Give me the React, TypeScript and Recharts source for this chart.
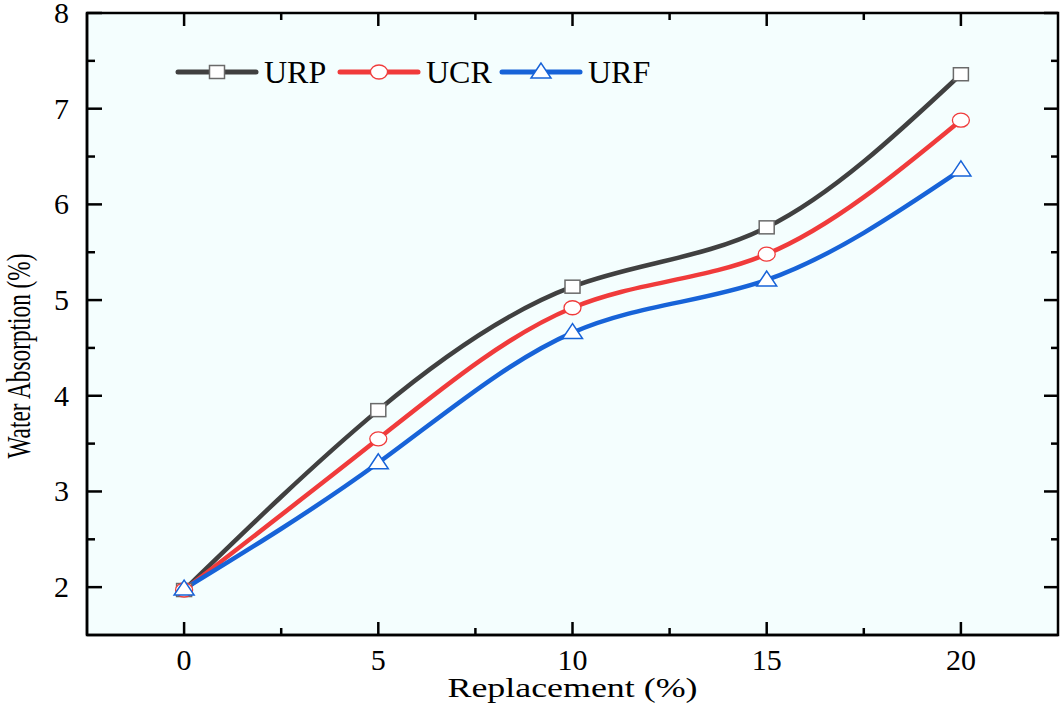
import React from 'react'
import { CartesianGrid, Label, Legend, Line, LineChart, ReferenceArea, XAxis, YAxis } from 'recharts'

// values
const replacement = [0, 5, 10, 15, 20]
const urp = [1.97, 3.85, 5.14, 5.76, 7.36]
const ucr = [1.97, 3.55, 4.92, 5.48, 6.88]
const urf = [1.98, 3.3, 4.66, 5.21, 6.36]

const xTicks = [0, 2.5, 5, 7.5, 10, 12.5, 15, 17.5, 20]
const yTicks = [2, 2.5, 3, 3.5, 4, 4.5, 5, 5.5, 6, 6.5, 7, 7.5, 8]

const FONT = '"Liberation Serif", "Times New Roman", serif'
const BG = '#F4FEFE'
const PLOT_TOP = 13
const PLOT_RIGHT = 1058

const series = [
  { key: 'urp', name: 'URP', color: '#404040', marker: 'square' },
  { key: 'ucr', name: 'UCR', color: '#F03B3B', marker: 'circle' },
  { key: 'urf', name: 'URF', color: '#1763D8', marker: 'triangle' },
]

const data = replacement.map((x, i) => ({ x, urp: urp[i], ucr: ucr[i], urf: urf[i] }))

function Marker({ kind, cx, cy, color }: { kind: string; cx: number; cy: number; color: string }) {
  if (kind === 'square') {
    return <rect x={cx - 7.5} y={cy - 6.5} width={15} height={13} fill="#fff" stroke="#6a6a6a" strokeWidth={1.5} />
  }
  if (kind === 'circle') {
    return <ellipse cx={cx} cy={cy} rx={8.5} ry={7} fill="#fff" stroke={color} strokeWidth={1.3} />
  }
  return (
    <polygon
      points={`${cx},${cy - 9} ${cx - 10},${cy + 6} ${cx + 10},${cy + 6}`}
      fill="#fff"
      stroke={color}
      strokeWidth={1.5}
    />
  )
}

const dotFor = (kind: string, color: string) => (p: any) => (
  <Marker key={`${kind}-${p.index}`} kind={kind} cx={p.cx} cy={p.cy} color={color} />
)

const major = (v: number) => Number.isInteger(v)
const majorX = (v: number) => v % 5 === 0

// ticks point inward, mirrored on the top edge
function BottomTick({ x, y, payload }: any) {
  const v = payload.value
  const len = majorX(v) ? 13 : 7
  return (
    <g>
      <line x1={x} x2={x} y1={y} y2={y - len} stroke="#000" strokeWidth={2.5} />
      <line x1={x} x2={x} y1={PLOT_TOP} y2={PLOT_TOP + len} stroke="#000" strokeWidth={2.5} />
      {majorX(v) && (
        <text x={x} y={y + 35} textAnchor="middle" fontSize={30} fontFamily={FONT} fill="#000">
          {v}
        </text>
      )}
    </g>
  )
}

// ticks point inward, mirrored on the right edge
function LeftTick({ x, y, payload }: any) {
  const v = payload.value
  return (
    <g>
      <line x1={x} x2={x + (major(v) ? 15 : 8)} y1={y} y2={y} stroke="#000" strokeWidth={2.5} />
      <line x1={PLOT_RIGHT} x2={PLOT_RIGHT - (major(v) ? 14 : 7)} y1={y} y2={y} stroke="#000" strokeWidth={2.5} />
      {major(v) && (
        <text x={x - 18} y={y + 10} textAnchor="end" fontSize={30} fontFamily={FONT} fill="#000">
          {v}
        </text>
      )}
    </g>
  )
}

function XTitle({ viewBox }: any) {
  const cx = viewBox.x + viewBox.width / 2
  return (
    <text x={cx} y={697} textAnchor="middle" fontSize={27} fontFamily={FONT} fill="#000" textLength={250} lengthAdjust="spacingAndGlyphs">
      Replacement (%)
    </text>
  )
}

function YTitle() {
  return (
    <text
      x={0}
      y={0}
      transform="translate(30 356) rotate(-90)"
      textAnchor="middle"
      fontSize={34}
      fontFamily={FONT}
      fill="#000"
      textLength={205}
      lengthAdjust="spacingAndGlyphs"
    >
      Water Absorption (%)
    </text>
  )
}

function renderLegend() {
  return (
    <svg width={700} height={60} style={{ display: 'block' }}>
      {series.map((s, i) => {
        const x0 = 178 + i * 162
        return (
          <g key={s.key}>
            <line x1={x0} x2={x0 + 78} y1={32} y2={32} stroke={s.color} strokeWidth={5} strokeLinecap="round" />
            <Marker kind={s.marker} cx={x0 + 39} cy={32} color={s.color} />
            <text x={x0 + 86} y={43} fontSize={32} fontFamily={FONT} fill="#000">
              {s.name}
            </text>
          </g>
        )
      })}
    </svg>
  )
}

export default function App() {
  return (
    <div style={{ position: 'absolute', left: 0, top: 0, width: 1062, height: 710, background: '#fff' }}>
      <LineChart width={1062} height={710} data={data} margin={{ top: PLOT_TOP, right: 1062 - PLOT_RIGHT, bottom: 0, left: 0 }}>
        <CartesianGrid fill={BG} horizontal={false} vertical={false} />
        <ReferenceArea x1={-2.5} x2={22.5} y1={1.5} y2={8} fill="none" stroke="#000" strokeWidth={2.5} fillOpacity={0} ifOverflow="visible" />
        <XAxis
          dataKey="x"
          type="number"
          domain={[-2.5, 22.5]}
          ticks={xTicks}
          interval={0}
          allowDataOverflow
          tickSize={0}
          tickMargin={0}
          height={75}
          axisLine={{ stroke: '#000', strokeWidth: 2.5 }}
          tickLine={false}
          tick={<BottomTick />}
        >
          <Label content={<XTitle />} />
        </XAxis>
        <YAxis
          type="number"
          domain={[1.5, 8]}
          ticks={yTicks}
          interval={0}
          allowDataOverflow
          tickSize={0}
          tickMargin={0}
          width={87}
          axisLine={{ stroke: '#000', strokeWidth: 2.5 }}
          tickLine={false}
          tick={<LeftTick />}
        >
          <Label content={<YTitle />} />
        </YAxis>
        <Legend
          layout="horizontal"
          verticalAlign="middle"
          content={renderLegend}
          wrapperStyle={{ position: 'absolute', left: 0, top: 40, width: 700 }}
        />
        {series.map((s) => (
          <Line
            key={s.key}
            dataKey={s.key}
            name={s.name}
            type="natural"
            stroke={s.color}
            strokeWidth={4.5}
            strokeLinecap="round"
            dot={dotFor(s.marker, s.color)}
            activeDot={false}
            isAnimationActive={false}
          />
        ))}
      </LineChart>
    </div>
  )
}
